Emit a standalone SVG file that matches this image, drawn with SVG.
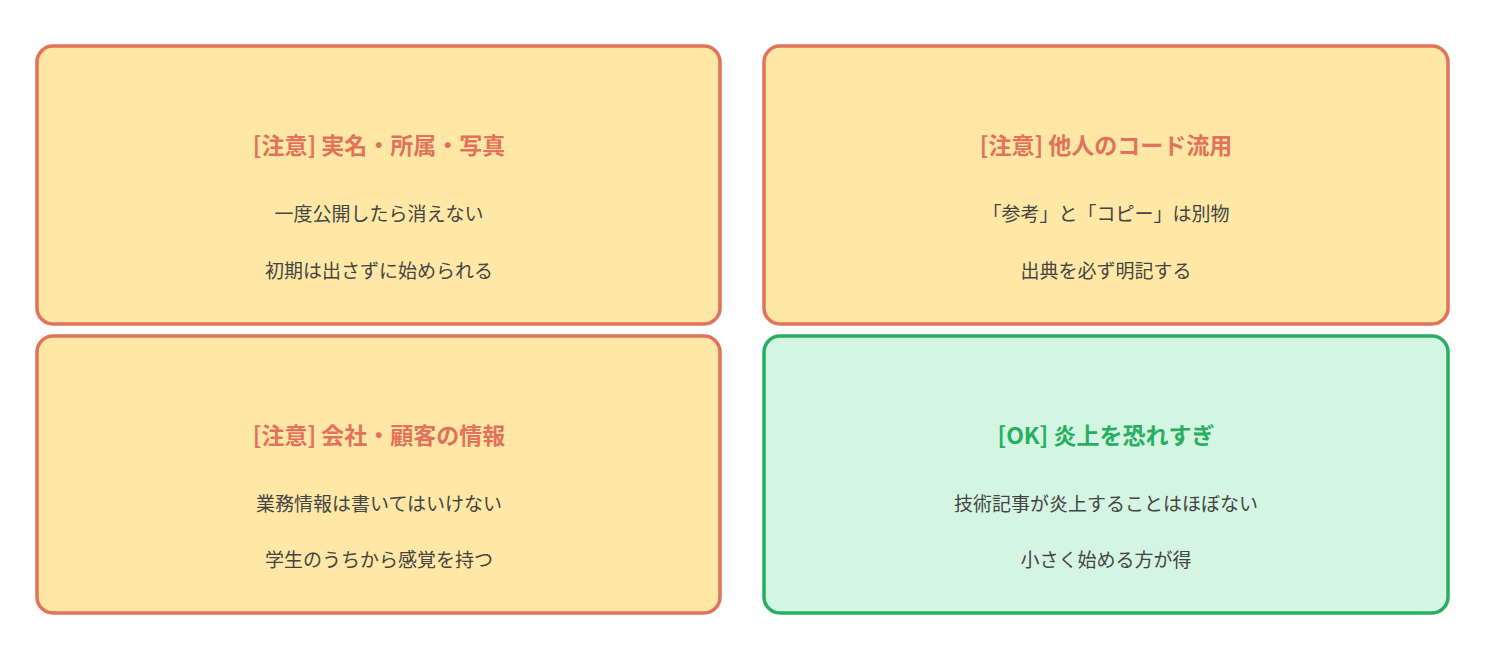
<svg xmlns="http://www.w3.org/2000/svg" width="1485" height="660" viewBox="0 0 1485 660">
<style>
.w{fill:#FFE8A6;stroke:#E2725B;stroke-width:3.5}
.g{fill:#D5F5E3;stroke:#27AE60;stroke-width:3.5}
text{font-family:"Noto Sans CJK JP","Noto Sans",sans-serif;text-anchor:middle}
.t{font-size:23px;font-weight:bold;fill:#E2725B}
.tg{font-size:23px;font-weight:bold;fill:#27AE60}
.b{font-size:19px;fill:#444}
</style>
<rect width="1485" height="660" fill="#fff"/>
<g id="n1"><rect class="w" x="37" y="46" width="683" height="278" rx="16"/>
<text class="t" x="379" y="154">[注意] 実名・所属・写真</text>
<text class="b" x="379" y="221">一度公開したら消えない</text>
<text class="b" x="379" y="278">初期は出さずに始められる</text></g>
<g id="n2"><rect class="w" x="764" y="46" width="684" height="278" rx="16"/>
<text class="t" x="1106" y="154">[注意] 他人のコード流用</text>
<text class="b" x="1106" y="221">「参考」と「コピー」は別物</text>
<text class="b" x="1106" y="278">出典を必ず明記する</text></g>
<g id="n3"><rect class="w" x="37" y="336" width="683" height="277" rx="16"/>
<text class="t" x="379" y="444">[注意] 会社・顧客の情報</text>
<text class="b" x="379" y="511">業務情報は書いてはいけない</text>
<text class="b" x="379" y="567">学生のうちから感覚を持つ</text></g>
<g id="n4"><rect class="g" x="764" y="336" width="684" height="277" rx="16"/>
<text class="tg" x="1106" y="444">[OK] 炎上を恐れすぎ</text>
<text class="b" x="1106" y="511">技術記事が炎上することはほぼない</text>
<text class="b" x="1106" y="567">小さく始める方が得</text></g>
<g id="connectors"/>
</svg>
